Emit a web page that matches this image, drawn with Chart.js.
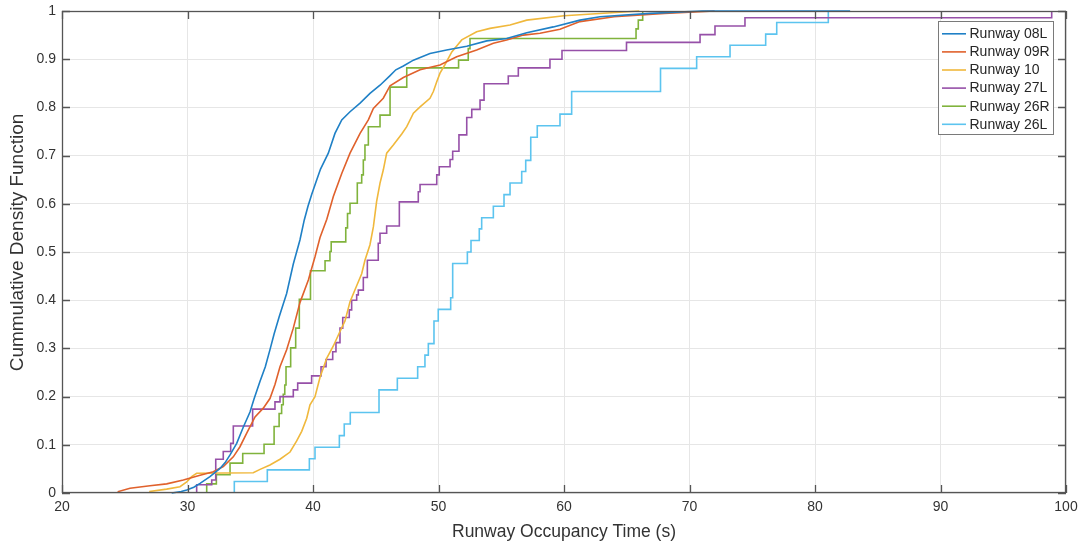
<!DOCTYPE html>
<html><head><meta charset="utf-8">
<script src="https://cdn.jsdelivr.net/npm/chart.js@4/dist/chart.umd.min.js"></script>
<style>html,body{margin:0;padding:0;background:#fff;} #wrap{width:1081px;height:546px;}</style>
</head><body><div id="wrap"><canvas id="c" width="1081" height="546"></canvas></div>
<script>
// ---- data ----
const seriesNames = ['Runway 08L', 'Runway 09R', 'Runway 10', 'Runway 27L', 'Runway 26R', 'Runway 26L'];

const rwy08L_x = [28.74,29.5,29.94,30.5,31.0,31.79,32.59,33.0,33.39,33.92,34.45,34.98,35.30,35.78,36.2,36.6,36.9,37.3,37.63,37.9,38.43,38.96,39.3,39.6,39.9,40.3,40.6,41.22,41.75,42.29,42.95,43.75,44.54,45.34,46.14,46.6,47.2,48.0,49.32,50.65,52.25,53.84,55.43,57.03,59.15,61.27,62.87,66.85,71.0,82.8];
const rwy08L_y = [0,0.003,0.006,0.012,0.020,0.034,0.051,0.063,0.079,0.103,0.137,0.168,0.195,0.232,0.262,0.300,0.330,0.365,0.392,0.414,0.475,0.525,0.566,0.595,0.620,0.650,0.672,0.705,0.746,0.774,0.791,0.809,0.829,0.846,0.866,0.878,0.886,0.898,0.912,0.919,0.927,0.938,0.943,0.955,0.967,0.981,0.988,0.995,1.0,1.0];

const rwy09R_x = [24.49,24.49,25.42,27.01,28.34,29.67,31.0,32.06,32.85,33.65,34.18,34.72,35.38,36.04,36.57,36.97,37.37,37.90,38.43,38.96,39.63,40.16,40.56,41.10,41.62,42.29,42.95,43.75,44.41,44.81,45.60,46.14,47.20,48.53,50.12,51.45,53.04,54.37,55.43,56.76,58.09,59.68,61.27,64.0,68.0,72.0];
const rwy09R_y = [0,0.003,0.010,0.015,0.019,0.027,0.037,0.044,0.055,0.075,0.096,0.124,0.158,0.176,0.196,0.225,0.262,0.297,0.342,0.395,0.442,0.490,0.530,0.568,0.615,0.663,0.705,0.746,0.774,0.798,0.819,0.845,0.862,0.878,0.888,0.905,0.919,0.933,0.940,0.950,0.954,0.962,0.978,0.988,0.995,1.0];

const rwy10_x = [27.01,27.01,28.34,29.40,29.94,30.33,30.73,35.24,35.78,36.57,37.37,38.17,38.70,39.10,39.50,39.76,40.16,40.56,41.10,41.62,42.15,42.55,42.95,43.48,43.88,44.14,44.54,44.81,45.07,45.34,45.60,45.87,46.40,47.07,47.47,48.0,48.53,49.32,49.59,49.86,50.12,50.52,51.06,51.85,53.04,54.10,55.70,57.03,60.0,66.0];
const rwy10_y = [0,0.003,0.008,0.013,0.023,0.034,0.041,0.042,0.049,0.058,0.070,0.085,0.108,0.128,0.155,0.183,0.200,0.240,0.280,0.305,0.335,0.357,0.397,0.430,0.455,0.483,0.515,0.552,0.605,0.643,0.670,0.705,0.722,0.745,0.760,0.788,0.801,0.819,0.833,0.853,0.871,0.889,0.915,0.940,0.957,0.964,0.971,0.981,0.990,1.0];

const rwy27L_x = [30.73,30.73,31.93,32.25,32.85,33.44,33.65,35.19,36.97,37.37,38.43,38.78,39.89,40.64,41.04,41.57,41.83,42.15,42.37,42.89,43.08,43.48,43.61,44.01,44.33,45.20,45.34,45.87,46.88,48.39,48.53,49.86,50.06,50.92,51.13,51.63,52.25,52.65,53.31,53.63,55.56,56.36,58.88,59.84,64.98,70.84,72.03,74.42,98.86];
const rwy27L_y = [0,0.017,0.027,0.070,0.086,0.103,0.139,0.174,0.189,0.200,0.214,0.228,0.243,0.262,0.277,0.293,0.312,0.342,0.364,0.380,0.400,0.411,0.421,0.447,0.483,0.518,0.539,0.554,0.604,0.625,0.640,0.660,0.677,0.692,0.709,0.743,0.779,0.796,0.815,0.849,0.865,0.882,0.900,0.918,0.935,0.951,0.969,0.986,1.0];

const rwy26R_x = [31.53,31.53,32.3,33.39,34.40,36.1,36.9,37.3,37.5,37.63,37.75,37.85,38.22,38.62,38.91,39.8,40.96,41.35,41.45,42.61,42.75,42.95,43.53,43.88,44.01,44.14,44.41,45.34,46.14,47.47,51.6,52.37,52.51,65.74,65.92,66.27];
const rwy26R_y = [0,0.019,0.038,0.062,0.082,0.101,0.138,0.165,0.183,0.205,0.224,0.262,0.301,0.342,0.402,0.461,0.482,0.501,0.521,0.550,0.580,0.601,0.643,0.660,0.691,0.722,0.760,0.784,0.842,0.882,0.898,0.922,0.943,0.963,0.981,1.0];

const rwy26L_x = [33.73,33.73,36.36,39.71,40.16,42.10,42.49,42.97,45.26,46.72,48.34,48.92,49.19,49.64,49.98,50.97,51.13,52.30,52.59,53.25,53.44,54.37,55.22,55.70,56.63,56.95,57.35,57.87,59.68,60.61,67.69,70.57,73.23,76.07,76.95,81.06];
const rwy26L_y = [0,0.024,0.048,0.071,0.095,0.119,0.143,0.167,0.214,0.238,0.262,0.286,0.310,0.357,0.381,0.405,0.476,0.500,0.524,0.548,0.571,0.595,0.619,0.643,0.667,0.690,0.738,0.762,0.786,0.833,0.881,0.905,0.929,0.952,0.976,1.0];

const xTickValues = [20,30,40,50,60,70,80,90,100];
const xTickLabels = ['20','30','40','50','60','70','80','90','100'];
const yTickValues = [0,0.1,0.2,0.3,0.4,0.5,0.6,0.7,0.8,0.9,1];
const yTickLabels = ['0','0.1','0.2','0.3','0.4','0.5','0.6','0.7','0.8','0.9','1'];
const xTitle = 'Runway Occupancy Time (s)';
const yTitle = 'Cummulative Density Function';

// ---- styling ----
const FONT = "'Liberation Sans', Arial, Helvetica, sans-serif";
const TXT = '#333333';
const style = [
  {color:'#1f80c6', stepped:false},
  {color:'#e0612c', stepped:false},
  {color:'#f0b83c', stepped:false},
  {color:'#9650a8', stepped:'before'},
  {color:'#80b33c', stepped:'before'},
  {color:'#5cc4ef', stepped:'before'}
];
const seriesX = [rwy08L_x, rwy09R_x, rwy10_x, rwy27L_x, rwy26R_x, rwy26L_x];
const seriesY = [rwy08L_y, rwy09R_y, rwy10_y, rwy27L_y, rwy26R_y, rwy26L_y];

const datasets = seriesNames.map((name, i) => ({
  label: name,
  data: seriesX[i].map((x, j) => ({x: x, y: seriesY[i][j]})),
  borderColor: style[i].color,
  backgroundColor: style[i].color,
  borderWidth: 1.6,
  pointRadius: 0,
  tension: 0,
  stepped: style[i].stepped,
  fill: false,
  clip: 3
}));

const frame = {
  id: 'frame',
  afterDatasetsDraw(chart) {
    const {ctx, chartArea: a, scales: {x, y}} = chart;
    ctx.save();
    ctx.strokeStyle = '#555555';
    ctx.lineWidth = 1.3;
    ctx.strokeRect(a.left + 0.5, a.top + 0.5, a.right - a.left - 1, a.bottom - a.top - 1);
    ctx.beginPath();
    const tl = 8;
    xTickValues.forEach(v => {
      const px = Math.round(x.getPixelForValue(v)) + 0.5;
      ctx.moveTo(px, a.bottom); ctx.lineTo(px, a.bottom - tl);
      ctx.moveTo(px, a.top); ctx.lineTo(px, a.top + tl);
    });
    yTickValues.forEach(v => {
      const py = Math.round(y.getPixelForValue(v)) + 0.5;
      ctx.moveTo(a.left, py); ctx.lineTo(a.left + tl, py);
      ctx.moveTo(a.right, py); ctx.lineTo(a.right - tl, py);
    });
    ctx.stroke();

    // y axis title
    ctx.save();
    ctx.translate(18, 242.5);
    ctx.rotate(-Math.PI / 2);
    ctx.font = '19px ' + FONT;
    ctx.fillStyle = TXT;
    ctx.textAlign = 'center';
    ctx.textBaseline = 'middle';
    ctx.fillText(yTitle, 0, 0);
    ctx.restore();

    // legend box
    const lx = 938.5, ly = 21.5, lw = 115, lh = 113;
    ctx.fillStyle = '#ffffff';
    ctx.fillRect(lx, ly, lw, lh);
    ctx.strokeStyle = '#7a7a7a';
    ctx.lineWidth = 1;
    ctx.strokeRect(lx, ly, lw, lh);
    ctx.font = '14px ' + FONT;
    ctx.textBaseline = 'middle';
    ctx.textAlign = 'left';
    chart.data.datasets.forEach((ds, i) => {
      const cy = 33.8 + i * 18.1;
      ctx.strokeStyle = ds.borderColor;
      ctx.lineWidth = 1.6;
      ctx.beginPath();
      ctx.moveTo(942, cy); ctx.lineTo(966, cy);
      ctx.stroke();
      ctx.fillStyle = '#262626';
      ctx.fillText(ds.label, 969.5, cy + 0.5);
    });
    ctx.restore();
  }
};

new Chart(document.getElementById('c'), {
  type: 'line',
  data: {datasets: datasets},
  plugins: [frame],
  options: {
    responsive: false,
    animation: false,
    devicePixelRatio: 1,
    layout: {padding: {left: 0, right: 15, top: 11, bottom: 0}},
    plugins: {legend: {display: false}, tooltip: {enabled: false}},
    scales: {
      x: {
        type: 'linear', min: 20, max: 100,
        afterBuildTicks: s => { s.ticks = xTickValues.map(v => ({value: v})); },
        afterFit: s => { s.height = 53; s.paddingLeft = 0; s.paddingRight = 0; },
        ticks: {color: TXT, font: {family: FONT, size: 14}, padding: 6, maxRotation: 0,
          callback: (v, i) => xTickLabels[i]},
        grid: {color: '#e6e6e6', lineWidth: 1, drawTicks: false},
        border: {display: false},
        title: {display: true, text: xTitle, color: TXT,
          font: {family: FONT, size: 17.5}, padding: {top: 0, bottom: 3}}
      },
      y: {
        type: 'linear', min: 0, max: 1,
        afterBuildTicks: s => { s.ticks = yTickValues.map(v => ({value: v})); },
        afterFit: s => { s.width = 62; s.paddingTop = 0; s.paddingBottom = 0; },
        ticks: {color: TXT, font: {family: FONT, size: 14}, padding: 6,
          callback: (v, i) => yTickLabels[i]},
        grid: {color: '#e6e6e6', lineWidth: 1, drawTicks: false},
        border: {display: false},
        title: {display: false}
      }
    }
  }
});
</script>
</body></html>
